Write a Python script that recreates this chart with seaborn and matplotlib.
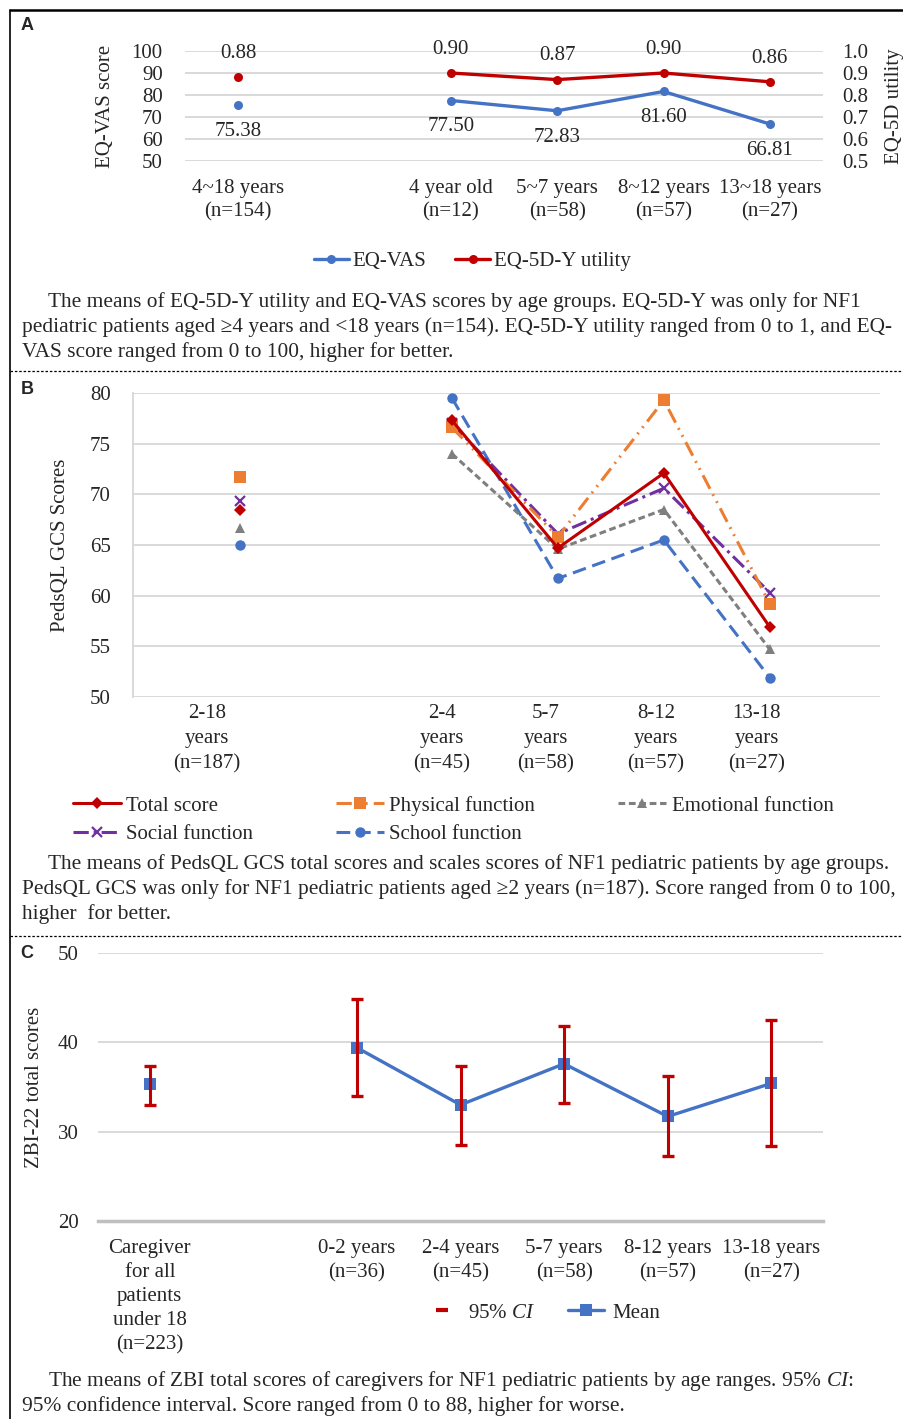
import matplotlib.pyplot as plt
import seaborn as sns
import pandas as pd
from matplotlib.lines import Line2D
from matplotlib.transforms import ScaledTranslation

# ---- panel A: EQ-5D-Y ----
eq_groups = ["4~18 years\n(n=154)", "4 year old\n(n=12)", "5~7 years\n(n=58)",
             "8~12 years\n(n=57)", "13~18 years\n(n=27)"]
eq_vas = [75.38, 77.50, 72.83, 81.60, 66.81]
eq_utility = [0.88, 0.90, 0.87, 0.90, 0.86]

# ---- panel B: PedsQL GCS ----
peds_groups = ["2-18\nyears\n(n=187)", "2-4\nyears\n(n=45)", "5-7\nyears\n(n=58)",
               "8-12\nyears\n(n=57)", "13-18\nyears\n(n=27)"]
peds_total = [68.5, 77.3, 64.7, 72.1, 56.9]
peds_physical = [71.7, 76.6, 65.8, 79.3, 59.2]
peds_emotional = [66.7, 74.0, 64.6, 68.5, 54.7]
peds_social = [69.3, 77.0, 66.1, 70.6, 60.3]
peds_school = [65.0, 79.5, 61.7, 65.5, 51.9]

# ---- panel C: ZBI-22 ----
zbi_groups = ["Caregiver\nfor all\npatients\nunder 18\n(n=223)", "0-2 years\n(n=36)",
              "2-4 years\n(n=45)", "5-7 years\n(n=58)", "8-12 years\n(n=57)",
              "13-18 years\n(n=27)"]
zbi_mean = [35.3, 39.4, 33.0, 37.6, 31.7, 35.4]
zbi_lower = [33.0, 34.0, 28.5, 33.2, 27.3, 28.4]
zbi_upper = [37.4, 44.8, 37.4, 41.8, 36.2, 42.5]

caption_a = ["The means of EQ-5D-Y utility and EQ-VAS scores by age groups. EQ-5D-Y was only for NF1",
             "pediatric patients aged \u22654 years and <18 years (n=154). EQ-5D-Y utility ranged from 0 to 1, and EQ-",
             "VAS score ranged from 0 to 100, higher for better."]
caption_b = ["The means of PedsQL GCS total scores and scales scores of NF1 pediatric patients by age groups.",
             "PedsQL GCS was only for NF1 pediatric patients aged \u22652 years (n=187). Score ranged from 0 to 100,",
             "higher  for better."]
caption_c = ["The means of ZBI total scores of caregivers for NF1 pediatric patients by age ranges. 95% $\\mathit{CI}$:",
             "95% confidence interval. Score ranged from 0 to 88, higher for worse."]

W, H = 904, 1419
BLUE = "#4472C4"
RED = "#C00000"
ORANGE = "#ED7D31"
GRAY = "#7F7F7F"
PURPLE = "#7030A0"
GRID = "#D9D9D9"
FS = 15
CAP_FS = 15.4


def frame(fig, left, top, right, bottom):
    return fig.add_axes([left / W, 1 - bottom / H, (right - left) / W, (bottom - top) / H])


def fy(y):
    return 1 - y / H


def positions(n):
    # the "all ages" category stands alone, one empty slot before the age groups
    return [0] + list(range(2, n + 1))


def long_table(values):
    return pd.DataFrame({
        "x": positions(len(values)),
        "y": values,
        "segment": ["all"] + ["age"] * (len(values) - 1),
    })


def style_axis(ax):
    for s in ax.spines.values():
        s.set_visible(False)
    ax.grid(axis="y", color=GRID, lw=1.4)
    ax.grid(axis="x", visible=False)
    ax.tick_params(length=0, labelsize=FS)
    ax.set_axisbelow(True)
    ax.set_facecolor("none")


def caption(fig, lines, y0):
    for i, line in enumerate(lines):
        x = 48 if i == 0 else 22
        fig.text(x / W, fy(y0 + 25 * i), line, fontsize=CAP_FS, ha="left", va="center")


sns.set_theme(style="white")
plt.rcParams["font.family"] = ["Liberation Serif", "DejaVu Serif"]
plt.rcParams["mathtext.fontset"] = "custom"
plt.rcParams["mathtext.rm"] = "Liberation Serif"
plt.rcParams["mathtext.it"] = "Liberation Serif:italic"

fig = plt.figure(figsize=(W / 100, H / 100), dpi=100)

# ---------------- A ----------------
ax_a = frame(fig, 185, 51, 823, 161)
style_axis(ax_a)
vas = long_table(eq_vas)
sns.lineplot(data=vas, x="x", y="y", units="segment", estimator=None, color=BLUE,
             lw=2.4, marker="o", markersize=6.5, markeredgewidth=0, legend=False, ax=ax_a)
ax_a.set(xlim=(-0.5, 5.5), ylim=(50, 100), xlabel="")
ax_a.set_yticks(range(50, 101, 10))
ax_a.set_xticks(positions(len(eq_groups)), eq_groups)
ax_a.tick_params(axis="y", pad=16)
ax_a.tick_params(axis="x", pad=13)
for lab in ax_a.get_xticklabels():
    lab.set_linespacing(1.28)
ax_a.set_ylabel("EQ-VAS score", fontsize=FS, va="center")
ax_a.yaxis.set_label_coords((105 - 185) / 638, 0.5)
for x, v in zip(vas["x"], eq_vas):
    ax_a.annotate(f"{v:.2f}", (x, v), xytext=(0, -19), textcoords="offset points",
                  ha="center", va="center", fontsize=FS)

ax_u = ax_a.twinx()
style_axis(ax_u)
ax_u.grid(False)
util = long_table(eq_utility)
sns.lineplot(data=util, x="x", y="y", units="segment", estimator=None, color=RED,
             lw=2.4, marker="o", markersize=6.5, markeredgewidth=0, legend=False, ax=ax_u)
ax_u.set(ylim=(0.5, 1.0), xlabel="")
ax_u.set_yticks([0.5, 0.6, 0.7, 0.8, 0.9, 1.0], ["0.5", "0.6", "0.7", "0.8", "0.9", "1.0"])
ax_u.tick_params(axis="y", pad=14)
ax_u.set_ylabel("EQ-5D utility", fontsize=FS, va="center", rotation=90)
ax_u.yaxis.set_label_coords((894 - 185) / 638, 0.5)
for x, v in zip(util["x"], eq_utility):
    ax_u.annotate(f"{v:.2f}", (x, v), xytext=(0, 17), textcoords="offset points",
                  ha="center", va="center", fontsize=FS)

handles_a = [Line2D([], [], color=BLUE, lw=2.4, marker="o", markersize=6.5, mew=0),
             Line2D([], [], color=RED, lw=2.4, marker="o", markersize=6.5, mew=0)]
fig.legend(handles_a, ["EQ-VAS", "EQ-5D-Y utility"], loc="center",
           bbox_to_anchor=(472 / W, fy(261)), ncol=2, frameon=False, fontsize=FS,
           handlelength=1.7, handletextpad=0.15, columnspacing=1.4)
caption(fig, caption_a, 302)

# ---------------- B ----------------
ax_b = frame(fig, 133, 393, 880, 697)
style_axis(ax_b)
ax_b.spines["left"].set_visible(True)
ax_b.spines["left"].set_color(GRID)
ax_b.spines["left"].set_linewidth(1.4)
peds_series = {
    "Total score": peds_total,
    "Physical function": peds_physical,
    "Emotional function": peds_emotional,
    "Social function": peds_social,
    "School function": peds_school,
}
peds_style = {
    "Total score": dict(color=RED, marker="D", markersize=6.5, ls="-"),
    "Physical function": dict(color=ORANGE, marker="s", markersize=8, ls=(0, (5, 2, 0.6, 2, 0.6, 2))),
    "Emotional function": dict(color=GRAY, marker="^", markersize=7, ls=(0, (2.2, 1.2))),
    "Social function": dict(color=PURPLE, marker="x", markersize=7, mew=1.6, ls=(0, (5, 1.6, 1, 1.6))),
    "School function": dict(color=BLUE, marker="o", markersize=7.5, ls=(0, (4.5, 2.2))),
}
draw_order = ["School function", "Emotional function", "Social function",
              "Physical function", "Total score"]
for name in draw_order:
    st = peds_style[name]
    d = long_table(peds_series[name])
    sns.lineplot(data=d, x="x", y="y", units="segment", estimator=None, color=st["color"],
                 lw=2.2, marker=st["marker"], markersize=st["markersize"],
                 markeredgewidth=st.get("mew", 0), markeredgecolor=st["color"],
                 linestyle=st["ls"], legend=False, ax=ax_b)
ax_b.set(xlim=(-1.01, 6.04), ylim=(50, 80), xlabel="")
ax_b.set_yticks(range(50, 81, 5))
ax_b.set_xticks(positions(len(peds_groups)), peds_groups)
ax_b.tick_params(axis="y", pad=16)
ax_b.tick_params(axis="x", pad=5)
label_shift = [-33, -10, -12, -8, -13]
for lab, dx in zip(ax_b.get_xticklabels(), label_shift):
    lab.set_linespacing(1.45)
    lab.set_transform(lab.get_transform() + ScaledTranslation(dx / 100, 0, fig.dpi_scale_trans))
ax_b.set_ylabel("PedsQL GCS Scores", fontsize=FS, va="center")
ax_b.yaxis.set_label_coords((60 - 133) / 747, 0.5)

legend_order = ["Total score", "Social function", "Physical function",
                "School function", "Emotional function"]
handles_b = []
for name in legend_order:
    st = peds_style[name]
    handles_b.append(Line2D([], [], color=st["color"], lw=2.2, ls=st["ls"], marker=st["marker"],
                            markersize=st["markersize"], mew=st.get("mew", 0)))
fig.legend(handles_b, legend_order, loc="center", bbox_to_anchor=(453 / W, fy(820)), ncol=3,
           frameon=False, fontsize=FS, handlelength=2.3, handletextpad=0.25,
           columnspacing=4.0, labelspacing=0.42)
caption(fig, caption_b, 864)

# ---------------- C ----------------
ax_c = frame(fig, 98, 953, 823, 1221)
style_axis(ax_c)
ax_c.spines["bottom"].set_visible(True)
ax_c.spines["bottom"].set_color("#BFBFBF")
ax_c.spines["bottom"].set_linewidth(2.5)
zbi = long_table(zbi_mean)
sns.lineplot(data=zbi, x="x", y="y", units="segment", estimator=None, color=BLUE,
             lw=2.4, marker="s", markersize=8.5, markeredgewidth=0, legend=False, ax=ax_c)
err_low = [m - lo for m, lo in zip(zbi_mean, zbi_lower)]
err_high = [hi - m for m, hi in zip(zbi_mean, zbi_upper)]
ax_c.errorbar(zbi["x"], zbi_mean, yerr=[err_low, err_high], fmt="none", ecolor=RED,
              elinewidth=2.2, capsize=4, capthick=2.4, zorder=4)
ax_c.set(xlim=(-0.5, 6.5), ylim=(20, 50), xlabel="")
ax_c.set_yticks(range(20, 51, 10))
ax_c.set_xticks(positions(len(zbi_groups)), zbi_groups)
ax_c.tick_params(axis="y", pad=14)
ax_c.tick_params(axis="x", pad=13)
for lab in ax_c.get_xticklabels():
    lab.set_linespacing(1.36)
ax_c.set_ylabel("ZBI-22 total scores", fontsize=FS, va="center")
ax_c.yaxis.set_label_coords((35 - 98) / 725, 0.5)

handles_c = [Line2D([], [], color=RED, ls="none", marker="_", markersize=8, mew=3),
             Line2D([], [], color=BLUE, lw=2.4, marker="s", markersize=8.5, mew=0)]
fig.legend(handles_c, ["95% $\\mathit{CI}$", "Mean"], loc="center",
           bbox_to_anchor=(542 / W, fy(1313)), ncol=2, frameon=False, fontsize=FS,
           handlelength=1.7, handletextpad=0.4, columnspacing=1.6)
caption(fig, caption_c, 1381)

# ---------------- frame & separators ----------------
fig.add_artist(Line2D([10 / W, 1], [fy(10), fy(10)], color="black", lw=1.8))
fig.add_artist(Line2D([10 / W, 10 / W], [fy(10), 0], color="black", lw=1.2))
for y in (371, 936):
    fig.add_artist(Line2D([10 / W, 1], [fy(y), fy(y)], color="black", lw=0.9, ls=(0, (2, 1.5))))
for letter, y in (("A", 25), ("B", 389), ("C", 954)):
    fig.text(27 / W, fy(y), letter, fontsize=13, fontweight="bold", family="Liberation Sans",
             ha="center", va="center")

fig.savefig("out.png", dpi=100)
